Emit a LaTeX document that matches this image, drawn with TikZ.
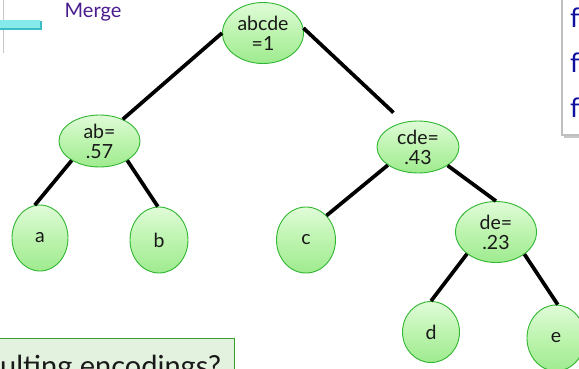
\documentclass[tikz,border=0pt]{standalone}
\usepackage{fontspec}
\setmainfont{Lato}
\usetikzlibrary{shapes.geometric}
\definecolor{nodeborder}{HTML}{30B630}
\definecolor{nodetop}{HTML}{E0FBD8}
\definecolor{nodemid}{HTML}{BDF4AF}
\definecolor{nodebot}{HTML}{9FEB8F}
\definecolor{mergepurple}{HTML}{4A1C8E}
\definecolor{fblue}{HTML}{1010A0}
\definecolor{barcyan}{HTML}{86EAEA}
\definecolor{baredge}{HTML}{3CBCC4}
\definecolor{boxgreen}{HTML}{3A9E2C}
\definecolor{boxfill}{HTML}{E2F2DE}
\begin{document}
\begin{tikzpicture}[x=1pt,y=-1pt,
  hnode/.style={ellipse, draw=nodeborder, line width=0.9pt, top color=nodetop, bottom color=nodebot, middle color=nodemid,
    inner sep=0pt, align=center, font=\fontsize{19.5}{20}\selectfont, text=black!90},
  edge/.style={line width=3.7pt, black},
  ftext/.style={anchor=base west, inner sep=0pt, text=fblue, font=\fontsize{27}{30}\selectfont}]
\useasboundingbox (0,0) rectangle (579,368);

% top-left fragments
\draw[black!22, line width=1pt] (3,-2) -- (3,53);
\fill[baredge] (0,21) rectangle (42,30);
\fill[barcyan] (0,20) rectangle (40,28);
\node[anchor=base, inner sep=0pt, text=mergepurple, font=\fontsize{20}{24}\selectfont] (merge) at (93,17) {Merge};

% top-right box
\fill[black!22] (564,-5) rectangle (585,138);
\filldraw[fill=white, draw=black!25, line width=1.5pt] (562,-5) rectangle (585,135);
\node[ftext] (f1) at (570,27) {f};
\node[ftext] (f2) at (570,72) {f};
\node[ftext] (f3) at (570,117) {f};

% bottom-left box
\filldraw[draw=boxgreen, fill=boxfill, line width=0.9pt] (-2,338) rectangle (234,380);
\node[anchor=base west, inner sep=0pt, text=black!90, font=\fontsize{29}{32}\selectfont] (q) at (0,376) {ulting encodings?};

% tree nodes
\node[hnode, minimum width=81pt, minimum height=61pt] (abcde) at (263,33) {abcde\\=1};
\node[hnode, minimum width=81pt, minimum height=52pt] (ab) at (99.5,141) {ab=\\.57};
\node[hnode, minimum width=82pt, minimum height=52pt] (cde) at (418,147) {cde=\\.43};
\node[hnode, minimum width=81pt, minimum height=61pt] (de) at (496,232) {de=\\.23};
\node[hnode, minimum width=56pt, minimum height=66pt] (a) at (40,238) {a};
\node[hnode, minimum width=58pt, minimum height=66pt] (b) at (159,240) {b};
\node[hnode, minimum width=59pt, minimum height=66pt] (c) at (306,240) {c};
\node[hnode, minimum width=57pt, minimum height=61pt] (d) at (431,332) {d};
\node[hnode, minimum width=58pt, minimum height=66pt] (e) at (556,338) {e};

% edges
\draw[edge] (abcde.west) -- (ab.43);
\draw[edge, shorten >=14pt] (abcde.7) -- (cde.120);
\draw[edge] (ab.215) -- (a.99);
\draw[edge] (ab.325) -- (b.92);
\draw[edge] (cde.211) -- (c.50);
\draw[edge] (cde.328) -- (de.north);
\draw[edge] (de.217) -- (d.north);
\draw[edge] (de.322) -- (e.87);
\end{tikzpicture}
\end{document}
